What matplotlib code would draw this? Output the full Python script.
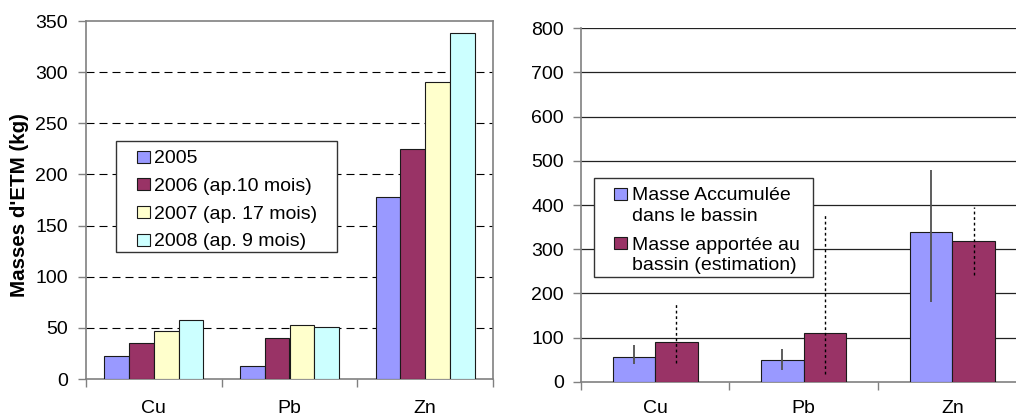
import matplotlib
matplotlib.use("Agg")
import matplotlib.pyplot as plt
import numpy as np
from matplotlib.patches import Rectangle

plt.rcParams['font.family'] = ['Liberation Sans', 'DejaVu Sans']

# ---- data ----
elements = ["Cu", "Pb", "Zn"]
years = ["2005", "2006 (ap.10 mois)", "2007 (ap. 17 mois)", "2008 (ap. 9 mois)"]
mass_2005 = [22, 13, 178]
mass_2006 = [35, 40, 225]
mass_2007 = [47, 53, 290]
mass_2008 = [58, 51, 338]
left_ticks = [0, 50, 100, 150, 200, 250, 300, 350]

series_labels = [["Masse Accumulée", "dans le bassin"],
                 ["Masse apportée au", "bassin (estimation)"]]
accum = [57, 50, 338]
accum_low = [41, 26, 181]
accum_high = [83, 73, 480]
apport = [89, 110, 318]
apport_low = [42, 17, 241]
apport_high = [181, 377, 395]
right_ticks = [0, 100, 200, 300, 400, 500, 600, 700, 800]

colors_left = ["#9999FF", "#993366", "#FFFFCC", "#CCFFFF"]
colors_right = ["#9999FF", "#993366"]

W, H = 1016, 417
fig = plt.figure(figsize=(W / 100, H / 100), dpi=100)

FS = 14
spine_col = "#808080"
edge_col = "#1a1a1a"


def fx(px):
    return px / W


def fy(py):
    return 1 - py / H


def legend_box(x0, y0, x1, y1):
    fig.patches.append(Rectangle((fx(x0), fy(y1)), fx(x1) - fx(x0), fy(y0) - fy(y1),
                                 transform=fig.transFigure, facecolor="white",
                                 edgecolor="#333333", linewidth=1.0, zorder=10))


def legend_handle(x0, y0, w, h, color):
    fig.patches.append(Rectangle((fx(x0), fy(y0 + h)), w / W, h / H,
                                 transform=fig.transFigure, facecolor=color,
                                 edgecolor=edge_col, linewidth=0.8, zorder=11))


# ---- left chart ----
ax1 = fig.add_axes([fx(86), fy(379), (493 - 86) / W, (379 - 21) / H])
x = np.arange(len(elements))
bw = 0.1825
left_series = [mass_2005, mass_2006, mass_2007, mass_2008]
for i, (vals, c) in enumerate(zip(left_series, colors_left)):
    ax1.bar(x + (i - 1.5) * bw, vals, width=bw, color=c, edgecolor=edge_col,
            linewidth=0.8, zorder=3)
ax1.set_xlim(-0.5, 2.5)
ax1.set_ylim(0, 350)
ax1.set_yticks(left_ticks)
ax1.set_yticklabels([str(t) for t in left_ticks], fontsize=FS)
ax1.set_xticks(x)
ax1.set_xticklabels(elements, fontsize=FS)
ax1.set_xticks([-0.5, 0.5, 1.5, 2.5], minor=True)
ax1.tick_params(axis="x", which="major", length=0, pad=15)
ax1.tick_params(axis="x", which="minor", length=6, width=1, color=spine_col, direction="out")
ax1.tick_params(axis="y", length=6, width=1, color=spine_col, direction="out", pad=7)
for v in left_ticks[1:-1]:
    ax1.axhline(v, color="black", linestyle=(0, (7.2, 4.5)), linewidth=0.8, zorder=1)
for s in ax1.spines.values():
    s.set_color(spine_col)
    s.set_linewidth(1.2)
ax1.set_ylabel("Masses d'ETM (kg)", fontsize=14.8, fontweight="bold")
ax1.yaxis.set_label_coords(-0.14, 0.486)

# left legend (drawn in figure pixels)
legend_box(115.7, 141, 336.7, 252)
left_baselines = [163.3, 191.0, 218.6, 246.2]
for lab, c, b in zip(years, colors_left, left_baselines):
    legend_handle(137, b - 12.6, 13, 12, c)
    fig.text(fx(154), fy(b), lab, fontsize=FS, ha="left", va="baseline", zorder=12)

# ---- right chart ----
ax2 = fig.add_axes([fx(580.7), fy(381.7), 446 / W, (381.7 - 28.3) / H])
bw2 = 0.286
ax2.bar(x - bw2 / 2, accum, width=bw2, color=colors_right[0], edgecolor=edge_col,
        linewidth=0.8, zorder=3)
ax2.bar(x + bw2 / 2, apport, width=bw2, color=colors_right[1], edgecolor=edge_col,
        linewidth=0.8, zorder=3)
ax2.vlines(x - bw2 / 2, accum_low, accum_high, color="#505050", linewidth=1.3, zorder=4)
ax2.vlines(x + bw2 / 2, apport_low, apport_high, color="black", linewidth=1.0,
           linestyles=(0, (2, 2)), zorder=4)
ax2.set_xlim(-0.5, 2.5)
ax2.set_ylim(0, 800)
ax2.set_yticks(right_ticks)
ax2.set_yticklabels([str(t) for t in right_ticks], fontsize=FS)
ax2.set_xticks(x)
ax2.set_xticklabels(elements, fontsize=FS)
ax2.set_xticks([-0.5, 0.5, 1.5, 2.5], minor=True)
ax2.tick_params(axis="x", which="major", length=0, pad=13)
ax2.tick_params(axis="x", which="minor", length=6, width=1, color=spine_col, direction="out")
ax2.tick_params(axis="y", length=6, width=1, color=spine_col, direction="out", pad=6)
for v in right_ticks[1:]:
    ax2.axhline(v, color="#222222", linestyle="-", linewidth=0.9, zorder=1)
ax2.spines["top"].set_visible(False)
ax2.spines["right"].set_visible(False)
for k in ["left", "bottom"]:
    ax2.spines[k].set_color(spine_col)
    ax2.spines[k].set_linewidth(1.2)

# right legend
legend_box(594.3, 178.3, 813.3, 277.3)
right_baselines = [(200.0, 221.0), (250.0, 270.5)]
handle_tops = [187.7, 237.0]
for lines, c, (b1, b2), ht in zip(series_labels, colors_right, right_baselines, handle_tops):
    legend_handle(614.3, ht, 13, 12.3, c)
    fig.text(fx(631.7), fy(b1), lines[0], fontsize=FS, ha="left", va="baseline", zorder=12)
    fig.text(fx(631.7), fy(b2), lines[1], fontsize=FS, ha="left", va="baseline", zorder=12)

fig.savefig("out.png", dpi=100)
